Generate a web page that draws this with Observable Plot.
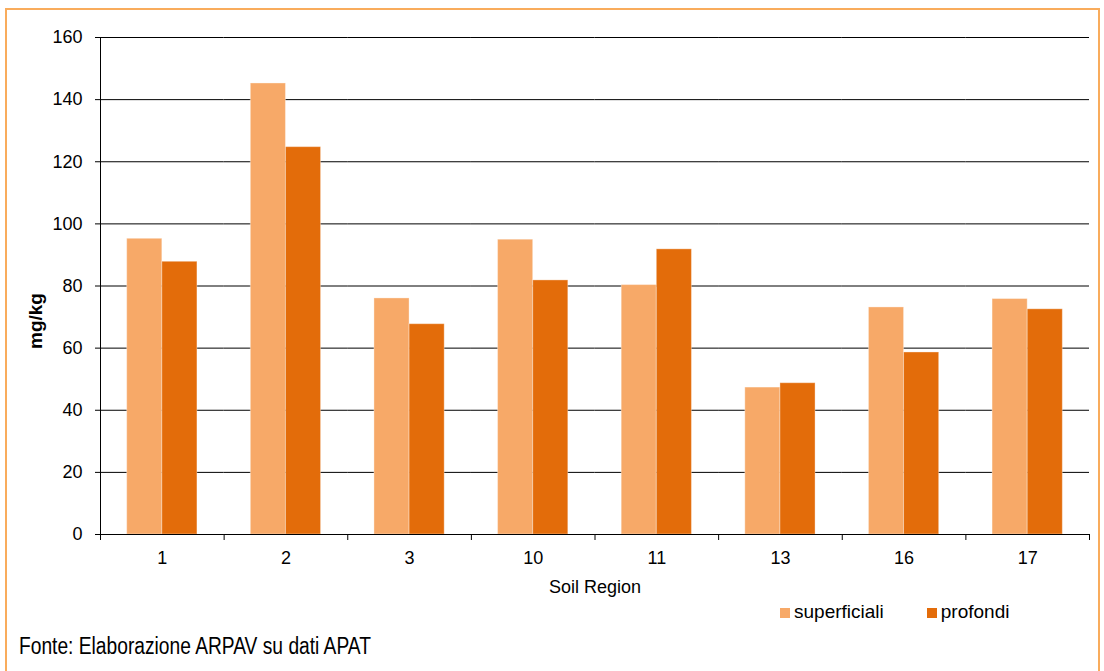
<!DOCTYPE html>
<html>
<head>
<meta charset="utf-8">
<script src="https://cdn.jsdelivr.net/npm/d3@7"></script>
<script src="https://cdn.jsdelivr.net/npm/@observablehq/plot@0.6"></script>
<style>
  body { margin: 0; background: #fff; font-family: "Liberation Sans", Arial, sans-serif; color: #000; }
  #frame { position: absolute; left: 5px; top: 8px; width: 1095px; height: 720px; border: 2px solid #F9AC5C; box-sizing: border-box; }
  #chart { position: absolute; left: 0; top: 0; }
  #ylabel { position: absolute; left: 35.5px; top: 321px; transform: translate(-50%, -50%) rotate(-90deg); font-weight: bold; font-size: 19px; white-space: nowrap; }
  #legend { position: absolute; left: 780px; top: 602px; display: flex; font-size: 19px; line-height: 19px; }
  #legend .item { display: flex; align-items: flex-start; margin-right: 43px; }
  #legend .sw { width: 10px; height: 10px; margin-top: 6px; margin-right: 4px; }
  #caption { position: absolute; left: 19px; top: 635px; font-size: 23px; line-height: 23px; transform: scaleX(0.835); transform-origin: left top; white-space: nowrap; }
</style>
</head>
<body>
<div id="frame"></div>
<div id="chart"></div>
<div id="ylabel">mg/kg</div>
<div id="legend"></div>
<div id="caption">Fonte: Elaborazione ARPAV su dati APAT</div>
<script>
const regions = ["1", "2", "3", "10", "11", "13", "16", "17"];
const superficiali = [95.2, 145.2, 76.0, 94.9, 80.3, 47.3, 73.1, 75.8];
const profondi = [87.8, 124.7, 67.7, 81.8, 91.8, 48.7, 58.6, 72.5];
const series = ["superficiali", "profondi"];
const colors = ["#F7A968", "#E36C0A"];
const yTicks = [0, 20, 40, 60, 80, 100, 120, 140, 160];

const data = regions.flatMap((r, i) => [
  {region: r, series: series[0], value: superficiali[i]},
  {region: r, series: series[1], value: profondi[i]}
]);

const H = 600, MT = 37, MB = 66;
const innerH = H - MT - MB;

const chart = Plot.plot({
  width: 1104,
  height: H,
  marginTop: MT,
  marginBottom: MB,
  marginLeft: 100,
  marginRight: 15,
  style: {fontFamily: "'Liberation Sans', Arial, sans-serif", fontSize: "18px", color: "#000", background: "transparent"},
  fx: {domain: regions, padding: 0, round: false, axis: null},
  x: {domain: series, paddingInner: 0, paddingOuter: 0.76, round: false, axis: null},
  y: {domain: [0, 160], axis: null},
  color: {domain: series, range: colors},
  marks: [
    Plot.gridY(yTicks, {stroke: "#000", strokeOpacity: 1}),
    Plot.barY(data, {fx: "region", x: "series", y: "value", fill: "series", stroke: "#fff", strokeOpacity: 0.35, strokeWidth: 1}),
    Plot.ruleY([0], {stroke: "#000"}),
    Plot.axisY(yTicks, {anchor: "left", tickSize: 5, tickPadding: 13, label: null, stroke: "#000", fontSize: 18}),
    Plot.axisFx({anchor: "bottom", tickSize: 0, tickPadding: 17, fontSize: 18, label: "Soil Region", labelAnchor: "center", labelOffset: 58}),
    Plot.frame({anchor: "left", facetAnchor: "left", insetBottom: -5, stroke: "#000"}),
    Plot.frame({anchor: "left", insetTop: innerH, insetBottom: -5, stroke: "#000"}),
    Plot.frame({anchor: "right", facetAnchor: "right", insetTop: innerH, insetBottom: -5, stroke: "#000"})
  ]
});
document.getElementById("chart").appendChild(chart);

const legend = document.getElementById("legend");
series.forEach((s, i) => {
  const item = document.createElement("div");
  item.className = "item";
  const sw = document.createElement("div");
  sw.className = "sw";
  sw.style.background = colors[i];
  const t = document.createElement("span");
  t.textContent = s;
  item.appendChild(sw);
  item.appendChild(t);
  legend.appendChild(item);
});
</script>
</body>
</html>
